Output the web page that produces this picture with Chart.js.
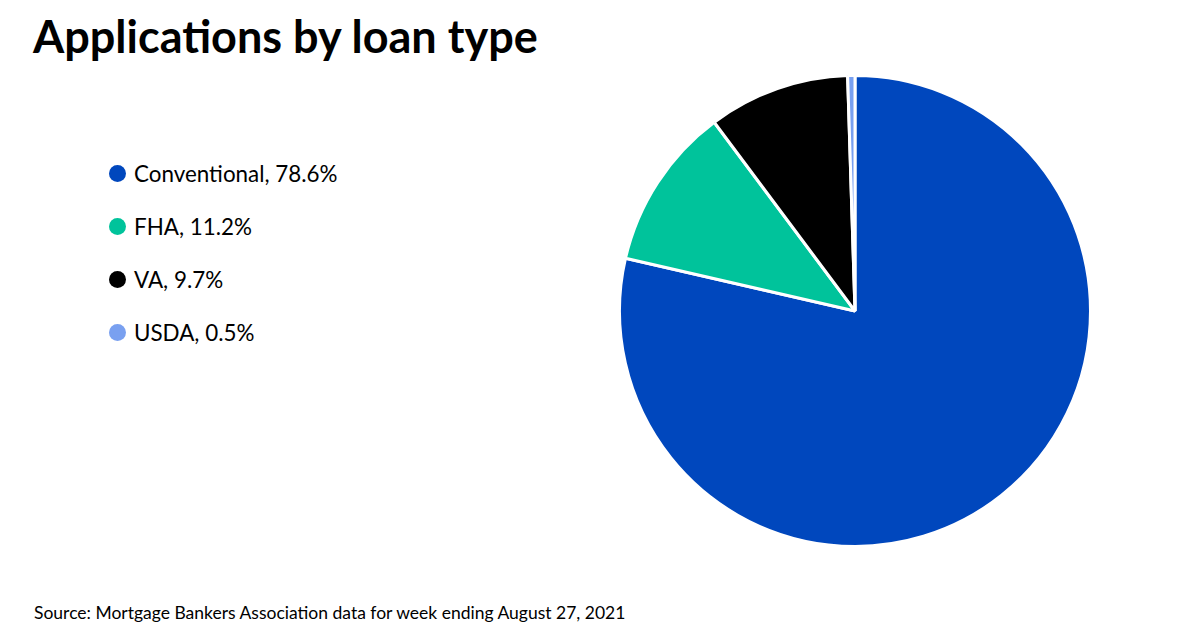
<!DOCTYPE html>
<html>
<head>
<meta charset="utf-8">
<script src="https://cdn.jsdelivr.net/npm/chart.js@4"></script>
<style>
	body{margin:0;width:1200px;height:630px;background:#fff;position:relative;overflow:hidden;font-family:Lato,"Open Sans",sans-serif;color:#000;}
	#title{position:absolute;left:33px;top:9px;font-size:45px;font-weight:700;}
	#legend{position:absolute;left:109px;top:147px;list-style:none;margin:0;padding:0;}
	#legend li{height:53px;display:flex;align-items:center;font-size:22.4px;}
	#legend .dot{width:17px;height:17px;border-radius:50%;margin:0 8px 0 0;}
	#source{position:absolute;left:34px;top:602px;font-size:17.5px;}
	#wrap{position:absolute;left:618px;top:74px;width:474px;height:474px;}
</style>
</head>
<body>
<div id="title">Applications by loan type</div>
<ul id="legend"></ul>
<div id="wrap"><canvas id="pie"></canvas></div>
<div id="source">Source: Mortgage Bankers Association data for week ending August 27, 2021</div>
<script>
//data
const loanTypes = ['Conventional','FHA','VA','USDA'];
const shares = [78.6, 11.2, 9.7, 0.5];
const sliceColors = ['#0047bd','#00c39b','#000000','#79a0f0'];

//legend built from the arrays
const legend = document.getElementById('legend');
for(let i=0; i<loanTypes.length; i++){
	const li = document.createElement('li');
	const dot = document.createElement('span');
	dot.className = 'dot';
	dot.style.backgroundColor = sliceColors[i];
	li.appendChild(dot);
	li.appendChild(document.createTextNode(loanTypes[i] + ', ' + shares[i].toFixed(1) + '%'));
	legend.appendChild(li);
}

//pie chart
const ctx = document.getElementById('pie');
const pieChart = new Chart(ctx, {
	type: 'pie',
	data:{
		labels: loanTypes,
		datasets:[{
			data: shares,
			backgroundColor: sliceColors,
			borderColor: '#ffffff',
			borderWidth: 3
		}]
	},
	options:{
		responsive: true,
		maintainAspectRatio: false,
		animation: false,
		layout:{padding:0},
		plugins:{
			legend:{display:false},
			tooltip:{enabled:false}
		}
	}
});
</script>
</body>
</html>
